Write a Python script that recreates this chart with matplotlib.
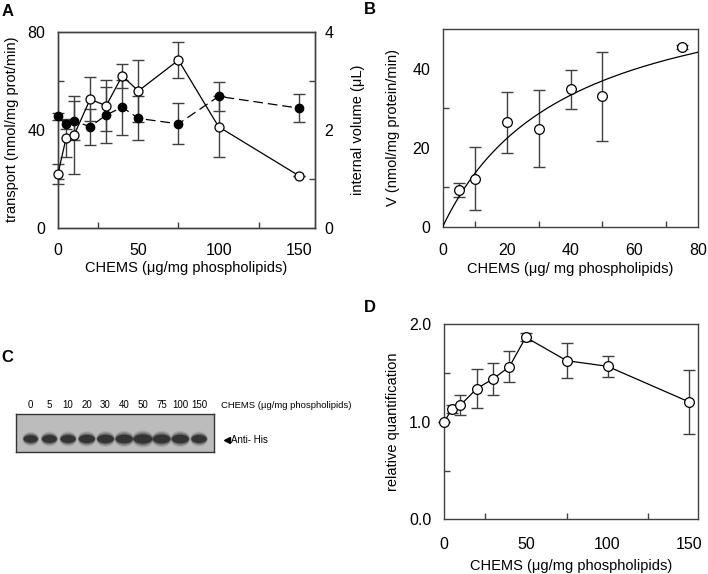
import matplotlib
matplotlib.use("Agg")
import matplotlib.pyplot as plt
import numpy as np
from matplotlib.patches import Ellipse

plt.rcParams["font.family"] = ["Liberation Sans", "DejaVu Sans"]
plt.rcParams["lines.scale_dashes"] = False

# ---- data ----
# panel A
chems_a = [0, 5, 10, 20, 30, 40, 50, 75, 100, 150]
transport = [22, 36.5, 37.8, 52.4, 49.8, 62, 55.8, 68.4, 41.2, 21.2]
transport_err = [4, 7.5, 16, 9, 10.5, 4.8, 12.6, 7.5, 12.4, 0]
volume = [2.27, 2.11, 2.18, 2.06, 2.30, 2.46, 2.23, 2.12, 2.68, 2.44]
volume_err = [0.07, 0.1, 0.4, 0.37, 0.57, 0.56, 0.45, 0.42, 0.29, 0.29]

# panel B
chems_b = [5, 10, 20, 30, 40, 50, 75]
rate_b = [9.3, 12.2, 26.4, 24.8, 34.8, 33.0, 45.5]
rate_b_err = [1.7, 7.9, 7.8, 9.7, 4.9, 11.3, 0.6]
VMAX = 65.7
KM = 38.9

# panel C / D
lane_labels = ["0", "5", "10", "20", "30", "40", "50", "75", "100", "150"]
chems_d = [0, 5, 10, 20, 30, 40, 50, 75, 100, 150]
rel_quant = [1.0, 1.13, 1.17, 1.34, 1.44, 1.565, 1.867, 1.627, 1.569, 1.203]
rel_quant_err = [0, 0.04, 0.1, 0.2, 0.165, 0.16, 0.04, 0.18, 0.11, 0.33]

W, H = 708, 574
AX_COLOR = "#404040"
TICK_FS = 11.5
LABEL_FS = 10.5


def px_axes(fig, left, top, right, bottom):
    return fig.add_axes([left / W, 1 - bottom / H, (right - left) / W, (bottom - top) / H])


def style_axes(ax):
    for s in ax.spines.values():
        s.set_color(AX_COLOR)
        s.set_linewidth(1.0)
    ax.tick_params(which="major", length=0, labelsize=TICK_FS, colors="black")
    ax.tick_params(which="minor", direction="in", length=4, width=1, color=AX_COLOR)


def err(ax, x, y, e):
    ax.errorbar(x, y, yerr=e, fmt="none", ecolor=AX_COLOR, elinewidth=1,
                capsize=4, capthick=1, zorder=2, clip_on=False)


fig = plt.figure(figsize=(W / 100, H / 100), dpi=100)

# ---- A ----
axA = px_axes(fig, 58, 31.7, 315, 227.7)
axA2 = axA.twinx()
style_axes(axA)
style_axes(axA2)
axA.set_xlim(0, 160)
axA.set_ylim(0, 80)
axA2.set_ylim(0, 4)
axA.set_xticks([0, 50, 100, 150])
axA.set_xticks([25, 75, 125], minor=True)
axA.set_yticks([0, 40, 80])
axA.set_yticks([20, 60], minor=True)
axA2.set_yticks([0, 2, 4])
axA2.set_yticks([1, 3], minor=True)
axA.tick_params(axis="x", which="major", pad=11)
axA.tick_params(axis="y", which="major", pad=9)
axA2.tick_params(axis="y", which="major", pad=7)

err(axA2, chems_a, volume, volume_err)
axA2.plot(chems_a, volume, color="black", lw=0.9, dashes=(7, 3.5), zorder=3)
axA2.plot(chems_a, volume, "o", ms=6, mfc="black", mec="black", zorder=4, clip_on=False)
err(axA2, chems_a, np.array(transport) / 20, np.array(transport_err) / 20)
axA2.plot(chems_a, np.array(transport) / 20, color="black", lw=0.9, zorder=5)
axA2.plot(chems_a, np.array(transport) / 20, "o", ms=6.5, mfc="white", mec="black",
          mew=0.9, zorder=6, clip_on=False)

axA.set_xlabel("CHEMS (\u03bcg/mg phospholipids)", fontsize=LABEL_FS)
axA.set_ylabel("transport (nmol/mg prot/min)", fontsize=LABEL_FS)
axA2.set_ylabel("internal volume (\u03bcL)", fontsize=LABEL_FS, rotation=90)
axA.xaxis.set_label_coords(0.5, -0.205)
axA.yaxis.set_label_coords(-0.18, 0.5)
axA2.yaxis.set_label_coords(1.167, 0.5)
for lab in (axA.xaxis.label, axA.yaxis.label, axA2.yaxis.label):
    lab.set_verticalalignment("center")

# ---- B ----
axB = px_axes(fig, 442.7, 29.3, 698.3, 226.7)
style_axes(axB)
axB.set_xlim(0, 80)
axB.set_ylim(0, 50)
axB.set_xticks([0, 20, 40, 60, 80])
axB.set_xticks([10, 30, 50, 70], minor=True)
axB.set_yticks([0, 20, 40])
axB.set_yticks([10, 30], minor=True)
axB.tick_params(axis="x", which="major", pad=12)
axB.tick_params(axis="y", which="major", pad=9)
x_fit = np.linspace(0, 80, 300)
axB.plot(x_fit, VMAX * x_fit / (KM + x_fit), color="black", lw=0.9, zorder=3)
err(axB, chems_b, rate_b, rate_b_err)
axB.plot(chems_b, rate_b, "o", ms=7, mfc="white", mec="black", mew=0.9, zorder=4)
axB.set_xlabel("CHEMS (\u03bcg/ mg phospholipids)", fontsize=LABEL_FS)
axB.set_ylabel("V (nmol/mg protein/min)", fontsize=LABEL_FS)
axB.xaxis.set_label_coords(0.5, -0.215)
axB.yaxis.set_label_coords(-0.194, 0.5)
for lab in (axB.xaxis.label, axB.yaxis.label):
    lab.set_verticalalignment("center")

# ---- C (blot) ----
axC = px_axes(fig, 16, 414.3, 214, 451.7)
axC.set_xlim(-0.786, 9.80)
axC.set_ylim(0, 1)
axC.set_facecolor("#bcbcbc")
for s in axC.spines.values():
    s.set_color("#333333")
    s.set_linewidth(1.0)
axC.set_yticks([])
axC.xaxis.tick_top()
axC.set_xticks(range(len(lane_labels)))
axC.set_xticklabels(lane_labels, fontsize=7)
axC.tick_params(axis="x", length=0, pad=3)
for i, q in enumerate(rel_quant):
    w = 0.5 + 0.26 * q
    h = 0.15 + 0.05 * q
    for k, a in zip(range(3, -1, -1), [0.12, 0.2, 0.35, 0.7]):
        axC.add_patch(Ellipse((i, 0.34), w * (1 + 0.06 * k), h * (1 + 0.3 * k),
                              color="#1e1e1e", alpha=a, lw=0))
axC.text(1.034, 1.23, "CHEMS (\u00b5g/mg phospholipids)", transform=axC.transAxes,
         fontsize=6.8, ha="left", va="center", clip_on=False)
axC.plot([1.066], [0.313], marker="<", ms=5, color="black", transform=axC.transAxes,
         clip_on=False)
axC.text(1.088, 0.313, "Anti- His", transform=axC.transAxes, fontsize=7,
         ha="left", va="center")

# ---- D ----
axD = px_axes(fig, 444, 324.3, 698.3, 519.3)
style_axes(axD)
axD.set_xlim(0, 155.5)
axD.set_ylim(0, 2.0)
axD.set_xticks([0, 50, 100, 150])
axD.set_xticks([25, 75, 125], minor=True)
axD.set_yticks([0, 1.0, 2.0])
axD.set_yticklabels(["0.0", "1.0", "2.0"])
axD.set_yticks([0.5, 1.5], minor=True)
axD.tick_params(axis="x", which="major", pad=13)
axD.tick_params(axis="y", which="major", pad=9)
err(axD, chems_d, rel_quant, rel_quant_err)
axD.plot(chems_d, rel_quant, color="black", lw=0.9, zorder=3)
axD.plot(chems_d, rel_quant, "o", ms=7, mfc="white", mec="black", mew=0.9,
         zorder=4, clip_on=False)
axD.set_xlabel("CHEMS (\u03bcg/mg phospholipids)", fontsize=LABEL_FS)
axD.set_ylabel("relative quantification", fontsize=LABEL_FS)
axD.xaxis.set_label_coords(0.5, -0.24)
axD.yaxis.set_label_coords(-0.2, 0.5)
for lab in (axD.xaxis.label, axD.yaxis.label):
    lab.set_verticalalignment("center")

# panel letters
for letter, x, y in [("A", 8, 12), ("B", 370, 10), ("C", 7, 357), ("D", 370, 307)]:
    fig.text(x / W, 1 - y / H, letter, fontsize=12, fontweight="bold",
             ha="center", va="center")

fig.savefig("out.png", dpi=100)
